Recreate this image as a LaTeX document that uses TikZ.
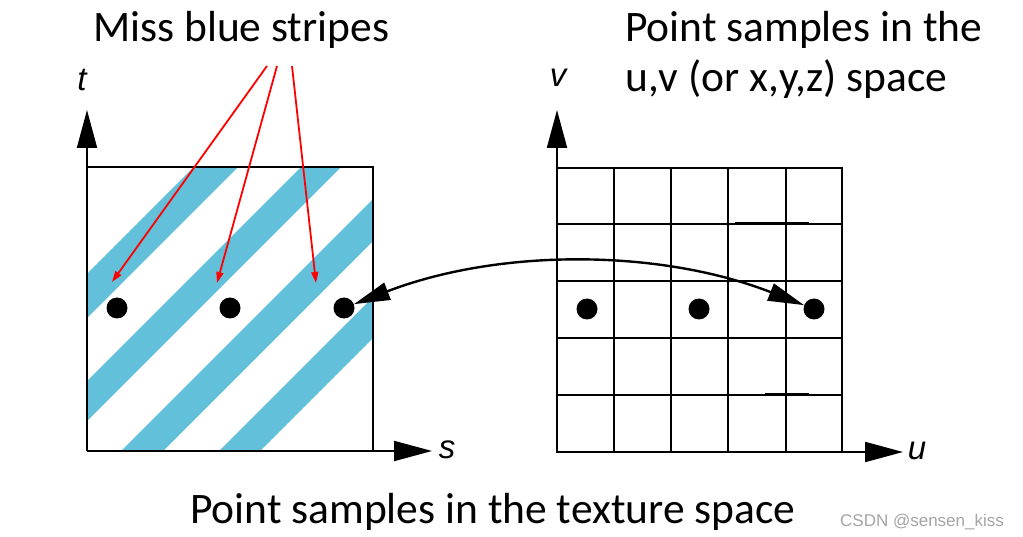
\documentclass[tikz,border=0pt]{standalone}
\usepackage{fontspec}
\setmainfont{Carlito}
\newfontfamily\axisfont{Liberation Sans}
\usetikzlibrary{arrows.meta}
\definecolor{stripe}{RGB}{98,192,218}
\definecolor{wmgray}{RGB}{165,165,165}
\begin{document}
\begin{tikzpicture}[x=1pt,y=-1pt,
  frame/.style={line width=2pt},
  gridline/.style={line width=1.2pt},
  axis/.style={line width=2pt,-{Triangle[length=38pt,width=20pt]}},
  dot/.style={circle,fill=black,minimum size=21pt,inner sep=0pt},
  lbl/.style={font=\fontsize{43.5}{50}\selectfont,anchor=base west,inner sep=0pt},
  axlbl/.style={font=\axisfont\itshape\fontsize{33}{36}\selectfont,inner sep=0pt},
  miss/.style={red,line width=1.8pt,-{Triangle[length=11pt,width=7pt]}},
  link/.style={line width=2.4pt,{Triangle[length=36pt,width=18pt]}-{Triangle[length=36pt,width=18pt]}},
]
\useasboundingbox (0,0) rectangle (1023,537);
\fill[white] (0,0) rectangle (1023,537);

% ---- left: texture with stripes
\begin{scope}
  \clip (87,167) rectangle (373,451);
  \foreach \a/\b in {-177/-133,-70/-30,34/76,132/173}{
    \fill[stripe] ({87+\a-300},751) -- ({87+\a+300},151) -- ({87+\b+300},151) -- ({87+\b-300},751) -- cycle;
  }
\end{scope}
\draw[frame] (87,167) -- (373,167) -- (373,451);
\coordinate (o1) at (87,451);
\coordinate (t1) at (87,110);
\coordinate (s1) at (432,451);
\draw[axis] (o1) -- (t1);
\draw[axis] (o1) -- (s1);
\node[axlbl] (tl) at (82,80) {t};
\node[axlbl] (sl) at (447,450) {s};

\node[dot] (l1) at (117,308) {};
\node[dot] (l2) at (230,308) {};
\node[dot] (l3) at (344,308) {};

% ---- right: grid
\draw[gridline] (557,168) rectangle (842,452);
\foreach \x in {614,671,728,786} \draw[gridline] (\x,168) -- (\x,452);
\foreach \y in {224,281,338,395} \draw[gridline] (557,\y) -- (842,\y);
\draw[line width=2pt] (735,223) -- (809,223);
\draw[line width=2pt] (765,394) -- (809,394);
\coordinate (o2) at (557,452);
\coordinate (v2) at (557,110);
\coordinate (u2) at (903,452);
\draw[axis] (o2) -- (v2);
\draw[axis] (o2) -- (u2);
\node[axlbl] (vl) at (558,78) {v};
\node[axlbl] (ul) at (917,451) {u};

\node[dot] (r1) at (587,309) {};
\node[dot] (r2) at (699,309) {};
\node[dot] (r3) at (814,309) {};

% ---- connector
\draw[link] (l3) .. controls (500,248) and (660,249) .. (r3);

% ---- red arrows
\coordinate (m1) at (267,66);
\coordinate (m2) at (277,66);
\coordinate (m3) at (292,66);
\coordinate (e1) at (112,282);
\coordinate (e2) at (217,283);
\coordinate (e3) at (316,283);
\draw[miss] (m1) -- (e1);
\draw[miss] (m2) -- (e2);
\draw[miss] (m3) -- (e3);

% ---- texts
\node[lbl] (miss) at (93,42) {Miss blue stripes};
\node[lbl] (pa) at (625,42) {Point samples in the};
\node[lbl] (pb) at (625,92) {u,v (or x,y,z) space};
\node[lbl] (pc) at (190,523) {Point samples in the texture space};
\node[anchor=base west,inner sep=0pt,text=wmgray,font=\axisfont\fontsize{17}{20}\selectfont] (wm) at (840,526) {CSDN @sensen\_kiss};
\end{tikzpicture}
\end{document}
